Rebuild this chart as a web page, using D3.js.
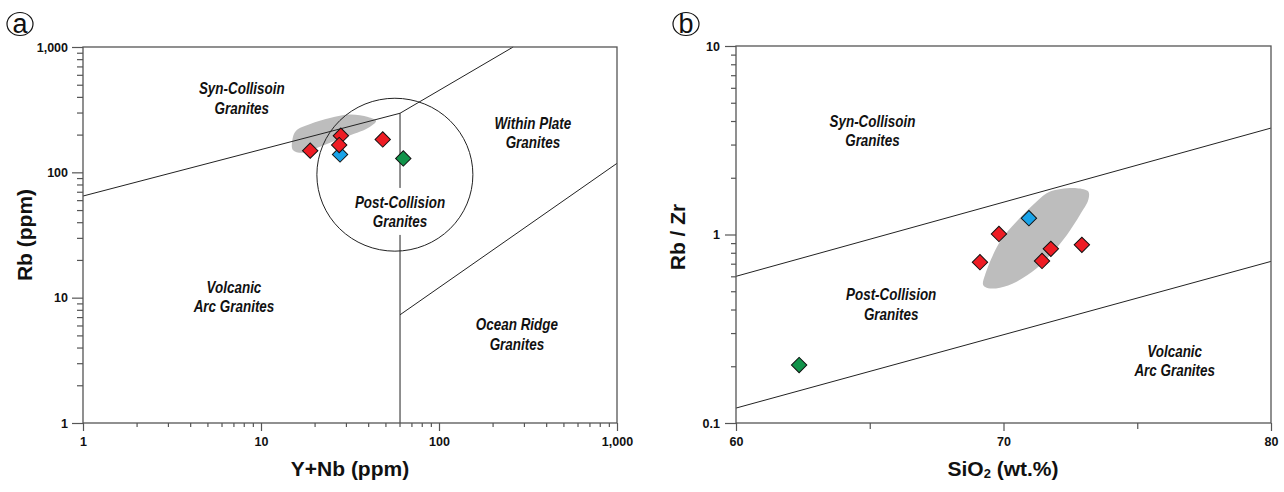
<!DOCTYPE html>
<html>
<head>
<meta charset="utf-8">
<script src="https://cdn.jsdelivr.net/npm/d3@7"></script>
<style>
  body { margin: 0; background: #fff; }
  text { font-family: "Liberation Sans", Arial, sans-serif; }
  .tick text { font-weight: bold; font-size: 12.5px; fill: #111; }
  .field { font-weight: bold; font-style: italic; font-size: 16px; fill: #111; }
  .title { font-weight: bold; font-size: 21px; fill: #111; }
</style>
</head>
<body>
<svg id="chart" width="1284" height="492"></svg>
<script>

// ---- panel a : Rb vs Y+Nb (ppm) ----
var aYNb   = [27.8, 18.9, 28.1, 27.5, 48.3, 63.0];
var aRb    = [139, 149, 196, 165, 183, 129];
var aGroup = ['blue', 'red', 'red', 'red', 'red', 'green'];

// field boundaries (Y+Nb, Rb)
var aSynVag = [[1, 64.7], [60.4, 296]];
var aSynWpg = [[60.4, 296], [261, 1000]];
var aVagOrg = [[60.4, 1], [60.4, 296]];
var aWpgOrg = [[60.4, 7.3], [1000, 118]];
var aPostColBox = [20.6, 155, 23.5, 390];   // circle extent: x min, x max, y min, y max
var aGrey = [[15, 181], [15.7, 214], [18.9, 243], [24.4, 271], [31.6, 289], [39.9, 276],
             [44.3, 257], [39.9, 226], [29.6, 191], [22, 162], [17, 143], [15.1, 151]];

var aMajor = [1, 10, 100, 1000];
var aLabels = [
  {t: ['Syn-Collisoin', 'Granites'], x: 7.8, y: 420},
  {t: ['Within Plate', 'Granites'], x: 337, y: 222},
  {t: ['Post-Collision', 'Granites'], x: 60.4, y: 52, knock: true},
  {t: ['Volcanic', 'Arc Granites'], x: 7.05, y: 10.9},
  {t: ['Ocean Ridge', 'Granites'], x: 274, y: 5.5}
];

// ---- panel b : Rb/Zr vs SiO2 (wt.%) ----
var bSiO2  = [70.95, 69.83, 69.12, 71.44, 71.77, 72.93, 62.36];
var bRbZr  = [1.221, 1.007, 0.713, 0.724, 0.839, 0.881, 0.203];
var bGroup = ['blue', 'red', 'red', 'red', 'red', 'red', 'green'];

var bUpper = [[60, 0.60], [80, 3.67]];
var bLower = [[60, 0.12], [80, 0.72]];
var bGrey = [[69.24, 0.540], [69.31, 0.610], [69.87, 0.917], [70.49, 1.171], [71.24, 1.495],
             [71.74, 1.690], [72.74, 1.762], [73.17, 1.690], [73.17, 1.527], [72.86, 1.271],
             [72.37, 0.995], [71.86, 0.811], [71.24, 0.662], [70.49, 0.562], [69.87, 0.522],
             [69.43, 0.519]];

var bXTicks = [60, 65, 70, 75, 80];
var bXLabelled = [60, 70, 80];
var bMajor = [0.1, 1, 10];
var bLabels = [
  {t: ['Syn-Collisoin', 'Granites'], x: 65.1, y: 3.73},
  {t: ['Post-Collision', 'Granites'], x: 65.8, y: 0.449},
  {t: ['Volcanic', 'Arc Granites'], x: 76.4, y: 0.224}
];

var colors = {red: '#ee1c24', blue: '#1aa3e8', green: '#11934a'};

var svg = d3.select('#chart');

function minorTicks(lo, hi) {
  var t = [];
  for (var d = lo; d < hi * 0.999; d *= 10)
    for (var k = 2; k < 10; k++) t.push(d * k);
  return t;
}

function frame(g, x, y) {
  var xr = x.range(), yr = y.range();
  g.append('rect')
    .attr('x', xr[0]).attr('y', yr[1])
    .attr('width', xr[1] - xr[0]).attr('height', yr[0] - yr[1])
    .attr('fill', 'none').attr('stroke', '#555').attr('stroke-width', 1.3);
}

function styleAxis(g) {
  g.select('.domain').remove();
  g.selectAll('.tick line').attr('stroke', '#555').attr('stroke-width', 1.2);
}

function boundary(g, pts, x, y) {
  g.append('path')
    .attr('d', d3.line().x(function (d) { return x(d[0]); }).y(function (d) { return y(d[1]); })(pts))
    .attr('fill', 'none').attr('stroke', '#222').attr('stroke-width', 1);
}

function greyField(g, pts, x, y) {
  g.append('path')
    .attr('d', d3.line().curve(d3.curveCatmullRomClosed.alpha(0.5))
      .x(function (d) { return x(d[0]); }).y(function (d) { return y(d[1]); })(pts))
    .attr('fill', '#bdbdbd');
}

// labels are drawn a bit condensed, like the narrow italic of the original
function fieldLabels(g, labels, x, y) {
  labels.forEach(function (l) {
    var cx = x(l.x), cy = y(l.y);
    if (l.knock) {
      // white gap in the boundary line behind the label
      g.append('rect').attr('x', cx - 4).attr('y', cy - 20).attr('width', 8).attr('height', 47)
        .attr('fill', '#fff');
    }
    var t = g.append('text').attr('class', 'field').attr('text-anchor', 'middle')
      .attr('transform', 'translate(' + cx + ',' + cy + ') scale(0.84,1)');
    l.t.forEach(function (s, i) {
      t.append('tspan').attr('x', 0).attr('y', i * 19.5).text(s);
    });
  });
}

function points(g, xs, ys, groups, x, y) {
  var sym = d3.symbol().type(d3.symbolSquare).size(118);
  g.selectAll('path.pt').data(xs).enter().append('path')
    .attr('class', 'pt')
    .attr('d', sym)
    .attr('transform', function (d, i) { return 'translate(' + x(d) + ',' + y(ys[i]) + ') rotate(45)'; })
    .attr('fill', function (d, i) { return colors[groups[i]]; })
    .attr('stroke', '#111').attr('stroke-width', 1);
}

function panelTag(letter, cx) {
  svg.append('ellipse').attr('cx', cx).attr('cy', 24).attr('rx', 13).attr('ry', 11.5)
    .attr('fill', 'none').attr('stroke', '#111').attr('stroke-width', 1.2);
  svg.append('text').attr('x', cx).attr('y', 32.5).attr('text-anchor', 'middle')
    .style('font-size', '27px').style('fill', '#111').text(letter);
}

// ================= panel a =================
var ax = d3.scaleLog().domain([1, 1000]).range([83, 617]);
var ay = d3.scaleLog().domain([1, 1000]).range([423, 47]);
var ga = svg.append('g');

greyField(ga, aGrey, ax, ay);
boundary(ga, aSynVag, ax, ay);
boundary(ga, aSynWpg, ax, ay);
boundary(ga, aVagOrg, ax, ay);
boundary(ga, aWpgOrg, ax, ay);
ga.append('ellipse')
  .attr('cx', (ax(aPostColBox[0]) + ax(aPostColBox[1])) / 2)
  .attr('cy', (ay(aPostColBox[2]) + ay(aPostColBox[3])) / 2)
  .attr('rx', (ax(aPostColBox[1]) - ax(aPostColBox[0])) / 2)
  .attr('ry', (ay(aPostColBox[2]) - ay(aPostColBox[3])) / 2)
  .attr('fill', 'none').attr('stroke', '#222').attr('stroke-width', 1);
fieldLabels(ga, aLabels, ax, ay);
points(ga, aYNb, aRb, aGroup, ax, ay);

ga.append('g').attr('transform', 'translate(0,423)')
  .call(d3.axisBottom(ax).tickValues(minorTicks(1, 1000)).tickSize(4).tickFormat('')).call(styleAxis);
ga.append('g').attr('transform', 'translate(0,423)')
  .call(d3.axisBottom(ax).tickValues(aMajor).tickSize(8).tickPadding(6).tickFormat(d3.format(','))).call(styleAxis);
ga.append('g').attr('transform', 'translate(83,0)')
  .call(d3.axisLeft(ay).tickValues(minorTicks(1, 1000)).tickSize(6).tickFormat('')).call(styleAxis);
ga.append('g').attr('transform', 'translate(83,0)')
  .call(d3.axisLeft(ay).tickValues(aMajor).tickSize(11).tickPadding(4).tickFormat(d3.format(','))).call(styleAxis);
frame(ga, ax, ay);

ga.append('text').attr('class', 'title').attr('text-anchor', 'middle')
  .attr('x', 350).attr('y', 476).text('Y+Nb (ppm)');
ga.append('text').attr('class', 'title').attr('text-anchor', 'middle')
  .attr('transform', 'translate(32,235) rotate(-90)').text('Rb (ppm)');
panelTag('a', 20);

// ================= panel b =================
var bx = d3.scaleLinear().domain([60, 80]).range([736, 1271]);
var by = d3.scaleLog().domain([0.1, 10]).range([423, 46]);
var gb = svg.append('g');

greyField(gb, bGrey, bx, by);
boundary(gb, bUpper, bx, by);
boundary(gb, bLower, bx, by);
fieldLabels(gb, bLabels, bx, by);
points(gb, bSiO2, bRbZr, bGroup, bx, by);

gb.append('g').attr('transform', 'translate(0,423)')
  .call(d3.axisBottom(bx).tickValues(bXTicks.filter(function (v) { return bXLabelled.indexOf(v) < 0; }))
    .tickSize(6).tickFormat('')).call(styleAxis);
gb.append('g').attr('transform', 'translate(0,423)')
  .call(d3.axisBottom(bx).tickValues(bXLabelled).tickSize(8).tickPadding(6)).call(styleAxis);
gb.append('g').attr('transform', 'translate(736,0)')
  .call(d3.axisLeft(by).tickValues(minorTicks(0.1, 10)).tickSize(5).tickFormat('')).call(styleAxis);
gb.append('g').attr('transform', 'translate(736,0)')
  .call(d3.axisLeft(by).tickValues(bMajor).tickSize(11).tickPadding(5).tickFormat(d3.format(''))).call(styleAxis);
frame(gb, bx, by);

var sio2 = gb.append('text').attr('class', 'title').attr('text-anchor', 'middle')
  .attr('x', 1003).attr('y', 476);
sio2.append('tspan').text('SiO');
sio2.append('tspan').style('font-size', '13px').attr('dy', 2).text('2');
sio2.append('tspan').attr('dy', -2).text(' (wt.%)');
gb.append('text').attr('class', 'title').attr('text-anchor', 'middle')
  .attr('transform', 'translate(685,237) rotate(-90)').text('Rb / Zr');
panelTag('b', 686);

</script>
</body>
</html>
